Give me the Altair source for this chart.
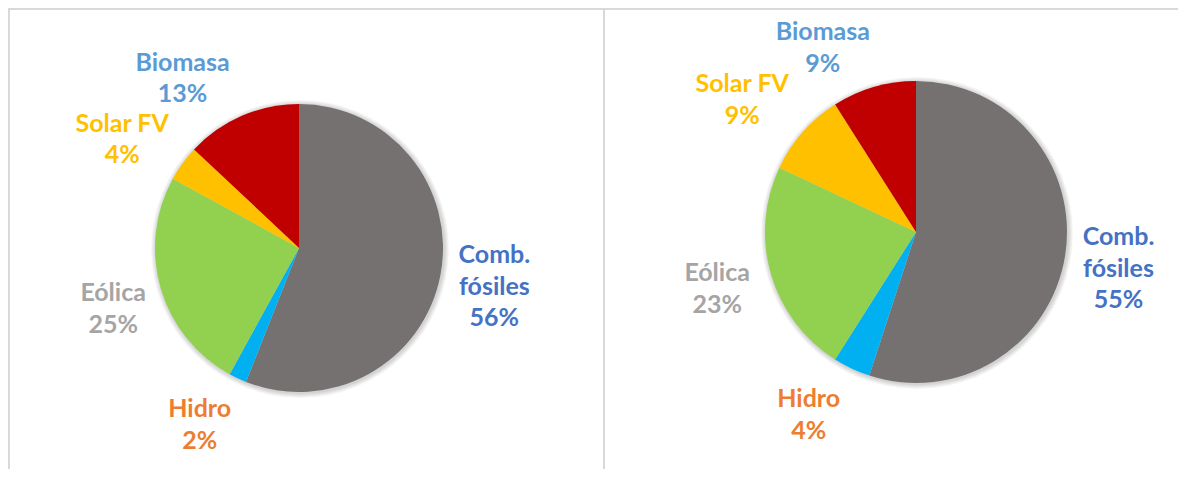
import math
import altair as alt
import pandas as pd

# ---- data ----
categories = ["Comb. fósiles", "Hidro", "Eólica", "Solar FV", "Biomasa"]
label_lines = ["Comb.\nfósiles", "Hidro", "Eólica", "Solar FV", "Biomasa"]
left_values = [56, 2, 25, 4, 13]
right_values = [55, 4, 23, 9, 9]

slice_colors = ["#767171", "#00B0F0", "#92D050", "#FFC000", "#C00000"]
label_colors = ["#4472C4", "#ED7D31", "#A5A5A5", "#FFC000", "#5B9BD5"]

# ---- layout ----
W, H = 1170, 461
FONT = "Lato"
FS = 25
LH = 31.5
LABEL_R = 205
pies_layout = [
    dict(cx=291, cy=240, r=144,
         offsets=[(-6, -31), (-12, -24), (11, -12), (-11, -4), (-35, 3)]),
    dict(cx=908, cy=224, r=151,
         offsets=[(0, -27), (-20, -18), (-2, -16), (-20, -12), (-36, -3)]),
]


def make_df(values):
    return pd.DataFrame({
        "idx": list(range(len(categories))),
        "category": categories,
        "value": values,
        "label": [f"{l}\n{v}%" for l, v in zip(label_lines, values)],
        "lcolor": label_colors,
    })


theta_scale = alt.Scale(domain=[0, 100])
layers = []

# frame lines
frame_color = "#D9D9D9"
one = pd.DataFrame({"a": [0]})
layers.append(alt.Chart(one).mark_rule(color=frame_color, strokeWidth=2).encode(
    x=alt.value(0), x2=alt.value(W), y=alt.value(1)))
layers.append(alt.Chart(one).mark_rule(color=frame_color, strokeWidth=2).encode(
    x=alt.value(1), y=alt.value(0), y2=alt.value(H)))
layers.append(alt.Chart(one).mark_rule(color=frame_color, strokeWidth=2).encode(
    x=alt.value(596), y=alt.value(0), y2=alt.value(H)))

for values, lay in zip([left_values, right_values], pies_layout):
    df = make_df(values)
    cx, cy, r = lay["cx"], lay["cy"], lay["r"]
    # soft glow/shadow
    for k in [5, 4, 3, 2, 1]:
        layers.append(
            alt.Chart(one).mark_arc(
                theta=0, theta2=2 * math.pi, radius=r + k, color="#000000", opacity=0.035
            ).encode(x=alt.value(cx + 1), y=alt.value(cy + 1))
        )
    # pie
    layers.append(
        alt.Chart(df).mark_arc(radius=r, stroke=None).encode(
            theta=alt.Theta("value:Q", stack=True, scale=theta_scale),
            order=alt.Order("idx:Q"),
            color=alt.Color("category:N", scale=alt.Scale(domain=categories, range=slice_colors), legend=None),
            x=alt.value(cx),
            y=alt.value(cy),
        )
    )
    # labels
    for i, (dx, dy) in enumerate(lay["offsets"]):
        layers.append(
            alt.Chart(df).transform_window(
                cum="sum(value)", sort=[alt.SortField("idx")], frame=[None, 0]
            ).transform_calculate(
                mid="datum.cum - datum.value / 2"
            ).transform_filter(
                alt.datum.idx == i
            ).mark_text(
                font=FONT, fontSize=FS, fontWeight="bold", lineBreak="\n", lineHeight=LH,
                align="center", baseline="middle", dx=dx, dy=dy,
            ).encode(
                theta=alt.Theta("mid:Q", scale=theta_scale),
                radius=alt.value(LABEL_R),
                text="label:N",
                color=alt.Color("lcolor:N", scale=None),
                x=alt.value(cx),
                y=alt.value(cy),
            )
        )

chart = alt.layer(*layers).properties(
    width=W, height=H, padding=0, autosize=alt.AutoSizeParams(type="none")
).configure_view(stroke=None).configure(background="white")

chart.save("out.html", embed_options={"renderer": "svg", "actions": False})
